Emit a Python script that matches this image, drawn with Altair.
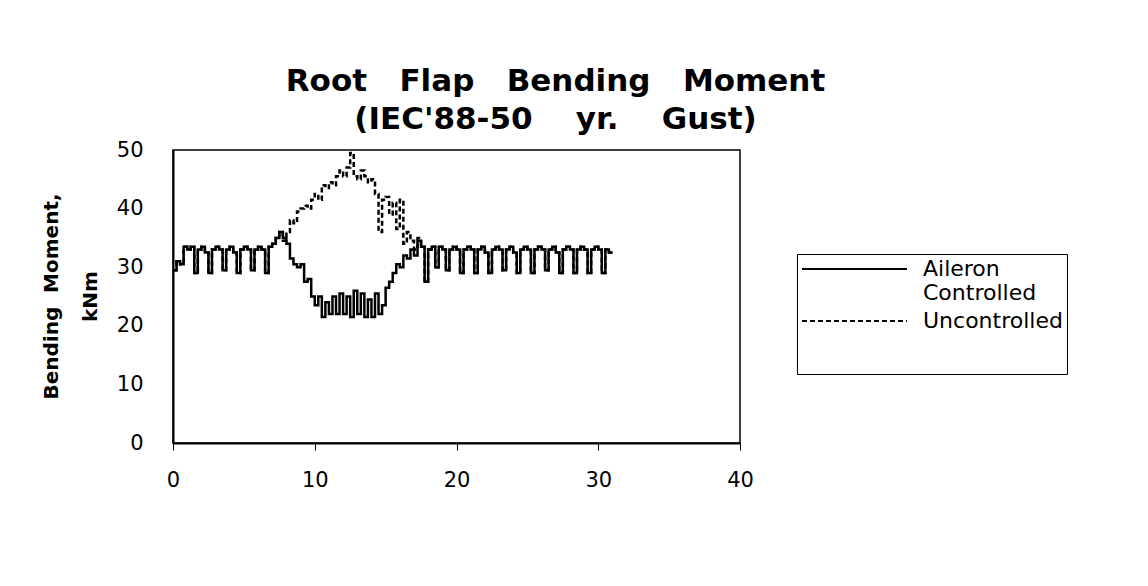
import altair as alt
import pandas as pd

step = 0.25

# Shared part before the gust, t = 0 .. 7.5
common_pre = [29.5, 31, 30.5, 33.5, 33, 33.5, 29, 33, 33.5, 32.5,
              29, 33, 33.5, 33, 29.5, 33, 33.5, 32.5, 29, 33,
              33.5, 33, 29.5, 33, 33.5, 33, 29, 33.5, 34, 35, 36]

# During the gust, t = 7.75 .. 17.5
uncontrolled_mid = [34.5, 36, 38, 37.5, 39.5, 40, 40.5, 40, 41.5, 42.5,
                    41.5, 44, 43.5, 44.5, 44, 45.5, 46.5, 45.5, 47, 49.5,
                    45.5, 45, 46.5, 45.5, 44.5, 45, 42.5, 36, 41.5, 42,
                    39, 41, 36.5, 41.5, 34, 36, 34.5, 33, 35, 33.5]
controlled_mid = [35, 34, 31.5, 30.5, 30, 30.5, 27.5, 28, 25, 23.5,
                  25, 21.5, 24, 22, 25, 22, 25.5, 22, 25, 21.5,
                  26, 22, 25.5, 21.5, 24.5, 21.5, 25.5, 22, 23.5, 26.5,
                  27.5, 29, 30.5, 30, 32, 31.5, 33, 32, 34.5, 33.5]

# Shared part after the gust, t = 17.75 .. 31
common_post = [27.5, 33, 33.5, 30, 33.5, 33, 29.5, 33, 33.5, 33,
               29, 33, 33.5, 33, 29, 33, 33.5, 32.5, 29, 33,
               33.5, 33, 29.5, 33, 33.5, 32.5, 29, 33, 33.5, 33,
               29, 33, 33.5, 33, 29.5, 33, 33.5, 32.5, 29, 33,
               33.5, 33, 29, 33, 33.5, 33, 29, 33, 33.5, 33,
               29, 33, 32.5, 32.5]

series_names = ["Aileron Controlled", "Uncontrolled"]
x_ticks = [0, 10, 20, 30, 40]
y_ticks = [0, 10, 20, 30, 40, 50]

controlled = common_pre + controlled_mid + common_post
uncontrolled = common_pre + uncontrolled_mid + common_post
time = [i * step for i in range(len(controlled))]

df = pd.DataFrame({
    "t": time + time,
    "v": controlled + uncontrolled,
    "series": [series_names[0]] * len(time) + [series_names[1]] * len(time),
})

FONT = "DejaVu Sans"
NB = "\u00a0"

chart = alt.Chart(df).mark_line(
    interpolate="step-after", strokeWidth=2.5, color="black"
).encode(
    x=alt.X("t:Q",
            scale=alt.Scale(domain=[0, 40], nice=False),
            axis=alt.Axis(values=x_ticks, title=None, grid=False, tickSize=7,
                          labelPadding=19, labelFontSize=21, labelFont=FONT,
                          labelColor="black", domainColor="black", domainWidth=2,
                          tickColor="black", labelFlush=False)),
    y=alt.Y("v:Q",
            scale=alt.Scale(domain=[0, 50], nice=False),
            axis=alt.Axis(values=y_ticks,
                          title=["Bending" + NB * 2 + "Moment,", "kNm"],
                          grid=False, tickSize=0, labelPadding=30,
                          labelFontSize=21, labelFont=FONT, labelColor="black",
                          domainColor="black", domainWidth=2,
                          titleFont=FONT, titleFontSize=20, titleFontWeight="bold",
                          titleColor="black", titleAngle=-90,
                          titleAlign="center", titleBaseline="alphabetic",
                          titleX=-116, titleY=146, titleLineHeight=39)),
    strokeDash=alt.StrokeDash(
        "series:N",
        scale=alt.Scale(domain=series_names, range=[[1, 0], [5, 3]]),
        legend=alt.Legend(
            title=NB, titleOrient="bottom", titleFontSize=21, titlePadding=17,
            orient="none", legendX=624, legendY=104,
            strokeColor="black", padding=4,
            symbolType="M-1,0H9.5", symbolSize=400, symbolStrokeWidth=2,
            symbolStrokeColor="black",
            labelFont=FONT, labelFontSize=22, labelColor="black",
            labelOffset=100, rowPadding=6, labelLimit=400,
            labelExpr="datum.label == 'Aileron Controlled' ? ['Aileron', 'Controlled'] : datum.label",
        ),
    ),
).properties(
    width=567,
    height=293,
    background="white",
    title=alt.TitleParams(
        text=["Root" + NB * 3 + "Flap" + NB * 3 + "Bending" + NB * 3 + "Moment",
              "(IEC'88-50" + NB * 4 + "yr." + NB * 4 + "Gust)"],
        font=FONT, fontSize=31, fontWeight="bold", color="black",
        anchor="middle", dx=99, offset=3, lineHeight=38,
    ),
    autosize=alt.AutoSizeParams(type="none"),
    padding={"left": 165, "top": 142, "right": 400, "bottom": 135},
).configure_view(
    stroke="black", strokeWidth=1.5
)

chart.save("out.html", embed_options={"renderer": "svg", "actions": False})
